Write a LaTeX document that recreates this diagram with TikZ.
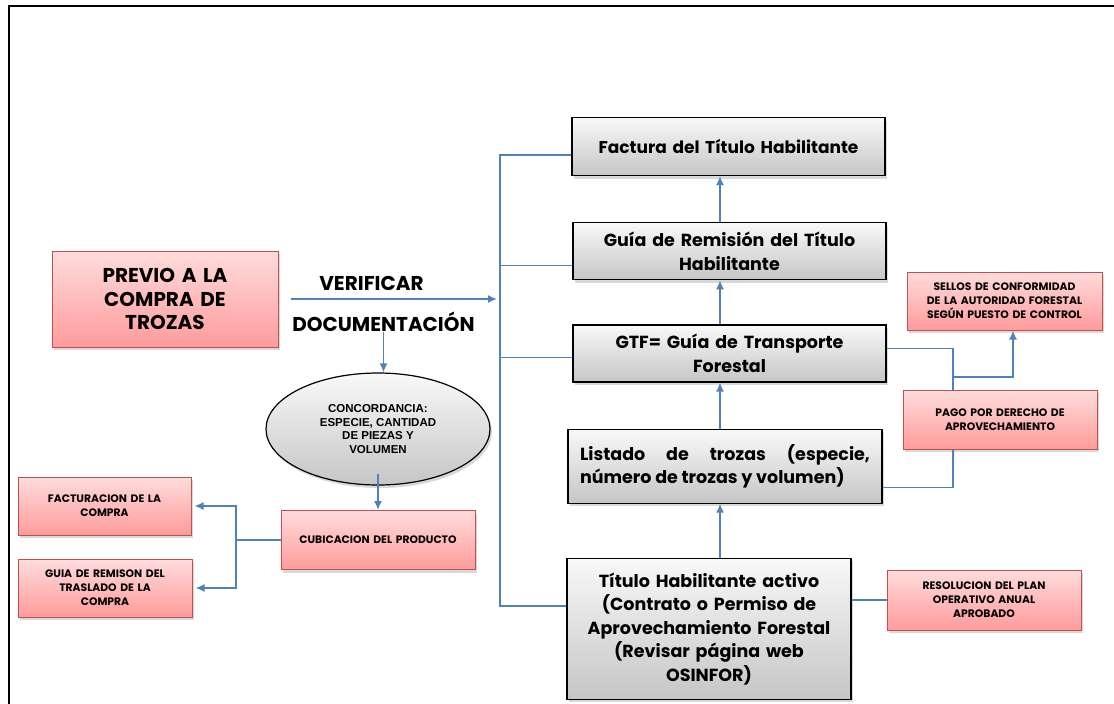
\documentclass[tikz,border=0pt]{standalone}
\usepackage{fontspec}
\newfontfamily\gothic{Poppins}
\newfontfamily\arialb{Liberation Sans}
\usetikzlibrary{positioning,shadows,arrows.meta,shapes.geometric}

\definecolor{linkblue}{RGB}{79,129,189}
\definecolor{pinkedge}{RGB}{192,80,77}
\definecolor{pinktop}{RGB}{255,220,220}
\definecolor{pinkbot}{RGB}{255,155,155}

\tikzset{
  graybox/.style={draw=black, line width=1.2pt, top color=gray!5, bottom color=gray!45,
    drop shadow={shadow xshift=2pt, shadow yshift=-3pt, opacity=0.3},
    inner xsep=6pt, inner ysep=2pt, align=center, font=\gothic\bfseries\fontsize{17.5}{23.5}\selectfont},
  pinkbox/.style={draw=pinkedge, line width=1pt, top color=pinktop, bottom color=pinkbot,
    drop shadow={shadow xshift=2pt, shadow yshift=-3pt, opacity=0.3},
    inner xsep=4pt, inner ysep=2pt, align=center, font=\gothic\bfseries\fontsize{10.8}{14}\selectfont},
  link/.style={draw=linkblue, line width=1.1pt},
  arrow/.style={draw=linkblue, line width=1.6pt, -{Latex[length=9pt,width=8pt]}},
  label/.style={inner sep=0pt, font=\gothic\bfseries\fontsize{20}{24}\selectfont}
}

\begin{document}
\begin{tikzpicture}[x=1pt,y=-1pt,node distance=45pt]
\useasboundingbox (0,0) rectangle (1114,704);
\draw[line width=2.5pt] (9,704) -- (9,6) -- (1114,6);

% right column
\node[graybox, text width=301pt, minimum height=58pt, font=\gothic\bfseries\fontsize{17}{23}\selectfont] (factura) at (728.5,146.5) {Factura del Título Habilitante};
\node[graybox, text width=301pt, minimum height=57pt] (guia) [below=46pt of factura, xshift=1pt] {Guía de Remisión del Título\\Habilitante};
\node[graybox, text width=301pt, minimum height=57pt] (gtf) [below=44pt of guia] {GTF= Guía de Transporte\\Forestal};
\node[graybox, text width=290pt, inner xsep=12pt, minimum height=74pt, align=justify] (listado) [below=46pt of gtf, xshift=-4.5pt] {Listado de trozas (especie,\linebreak número de trozas y volumen)};
\node[graybox, text width=272pt, minimum height=141pt] (titulo) [below=54pt of listado, xshift=-16pt] {Título Habilitante activo\\(Contrato o Permiso de\\Aprovechamiento Forestal\\(Revisar página web\\OSINFOR)};

% left side
\node[pinkbox, text width=218pt, minimum height=96pt, font=\gothic\bfseries\fontsize{20}{23.5}\selectfont] (previo) at (165,299) {PREVIO A LA\\COMPRA DE\\TROZAS};
\node[label] (verif) at (371.5,283) {VERIFICAR};
\node[label] (doc) at (383.5,322) {DOCUMENTACIÓN};
\node[ellipse, draw=black, line width=1.2pt, top color=gray!5, bottom color=gray!45,
  drop shadow={shadow xshift=2pt, shadow yshift=-3pt, opacity=0.3},
  minimum width=224pt, minimum height=112pt, inner sep=0pt, align=center,
  font=\arialb\bfseries\fontsize{11.5}{13.5}\selectfont] (elipse) at (378,429) {CONCORDANCIA:\\ESPECIE, CANTIDAD\\DE PIEZAS Y\\VOLUMEN};
\node[pinkbox, text width=186pt, minimum height=59pt] (cubica) at (378,540) {CUBICACION DEL PRODUCTO};
\node[pinkbox, text width=165pt, minimum height=58pt] (factcompra) at (104.5,506) {FACTURACION DE LA\\COMPRA};
\node[pinkbox, text width=166pt, minimum height=58pt] (guiacompra) at (105,588) {GUIA DE REMISON DEL\\TRASLADO DE LA\\COMPRA};

% right pink boxes
\node[pinkbox, text width=187pt, minimum height=58pt] (sellos) at (1004.5,301) {SELLOS DE CONFORMIDAD\\DE LA AUTORIDAD FORESTAL\\SEGÚN PUESTO DE CONTROL};
\node[pinkbox, text width=186pt, minimum height=59pt] (pago) at (1000,419.5) {PAGO POR DERECHO DE\\APROVECHAMIENTO};
\node[pinkbox, text width=186pt, minimum height=60pt] (resol) at (984,600) {RESOLUCION DEL PLAN\\OPERATIVO ANUAL\\APROBADO};

% connectors
\coordinate (col) at (720,0);
\draw[arrow] (col |- guia.north) -- (col |- factura.south);
\draw[arrow] (col |- gtf.north) -- (col |- guia.south);
\draw[arrow] (col |- listado.north) -- (col |- gtf.south);
\draw[arrow] (col |- titulo.north) -- (col |- listado.south);

\coordinate (bustop) at (500,155);
\coordinate (busbot) at (500,606);
\coordinate (bg) at ([yshift=-14pt]guia.west);
\coordinate (bt) at ([yshift=-4pt]gtf.west);
\draw[link] (bustop -| factura.west) -- (bustop) -- (busbot) -- (busbot -| titulo.west);
\draw[link] (bg) -- (bg -| bustop);
\draw[link] (bt) -- (bt -| bustop);
\draw[arrow] ([xshift=12pt]previo.east) -- (497,299);

\draw[arrow] (doc.south) -- (doc.south |- elipse.north);
\draw[arrow] ([yshift=12pt]elipse.south) -- (cubica.north);
\coordinate (lj) at (236,540);
\draw[link] (cubica.west) -- (lj);
\draw[arrow, shorten >=3pt] (lj) |- (factcompra.east);
\draw[arrow, shorten >=3pt] (lj) |- (guiacompra.east);

\coordinate (g1) at ([yshift=5pt]gtf.east);
\coordinate (pj) at (953,377);
\draw[link] (g1) -| (pj |- pago.north);
\draw[arrow] (pj) -| ([xshift=8.5pt]sellos.south);
\draw[link] (pj |- pago.south) |- ([yshift=-21pt]listado.east);
\draw[link] (titulo.east |- resol.west) -- (resol.west);
\end{tikzpicture}
\end{document}
